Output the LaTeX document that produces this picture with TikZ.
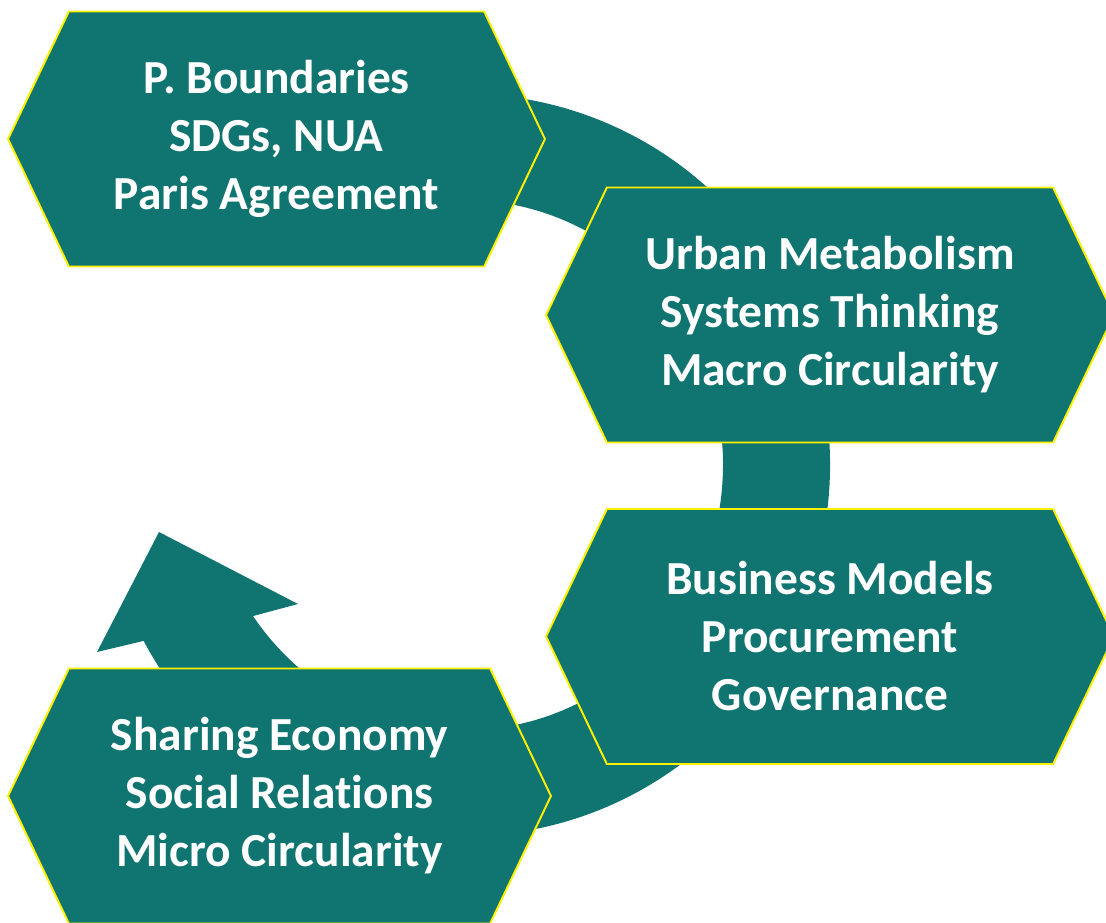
\documentclass[tikz,border=0pt]{standalone}
\usepackage{fontspec}
\setmainfont[Ligatures=NoCommon]{Carlito}
\usetikzlibrary{shapes.symbols,calc}

\definecolor{hexteal}{RGB}{16,117,112}
\definecolor{hexedge}{RGB}{255,240,0}

\begin{document}
\begin{tikzpicture}[
    x = 0.02cm,
    y = -0.02cm,
    hexbox/.style = {
      shape = signal,
      signal to = west and east,
      signal pointer angle = 129,
      minimum height = 5.1cm,
      inner sep = 0pt,
      outer sep = 0pt,
      fill = hexteal,
      draw = hexedge,
      line width = 1.1pt,
      text = white,
      align = center,
      font = \fontsize{27}{33}\selectfont\bfseries
    }
  ]
  \useasboundingbox (0,0) rectangle (1106,923);
  \clip (0,0) rectangle (1106,923);

  % The circular arrow behind the boxes
  \coordinate (hub) at (465,465);
  \fill[hexteal] ($(hub)+(-120:365 and 371)$)
    arc[start angle = -120, end angle = 151.7, x radius = 365, y radius = 371]
    -- (97,652) -- (159,532) -- (298,604)
    -- ($(hub)+(145.25:258 and 265)$)
    arc[start angle = 145.25, end angle = -120, x radius = 258, y radius = 265]
    -- cycle;

  % The four boxes
  \node[hexbox, minimum width = 10.74cm] (bounds)   at (276.5,139)   {P. Boundaries\\SDGs, NUA\\Paris Agreement};
  \node[hexbox, minimum width = 11.36cm] (metab)    at (830,315)     {Urban Metabolism\\Systems Thinking\\Macro Circularity};
  \node[hexbox, minimum width = 11.36cm] (business) at (830,636.5)   {Business Models\\Procurement\\Governance};
  \node[hexbox, minimum width = 10.86cm] (sharing)  at (279.5,796)   {Sharing Economy\\Social Relations\\Micro Circularity};
\end{tikzpicture}
\end{document}
